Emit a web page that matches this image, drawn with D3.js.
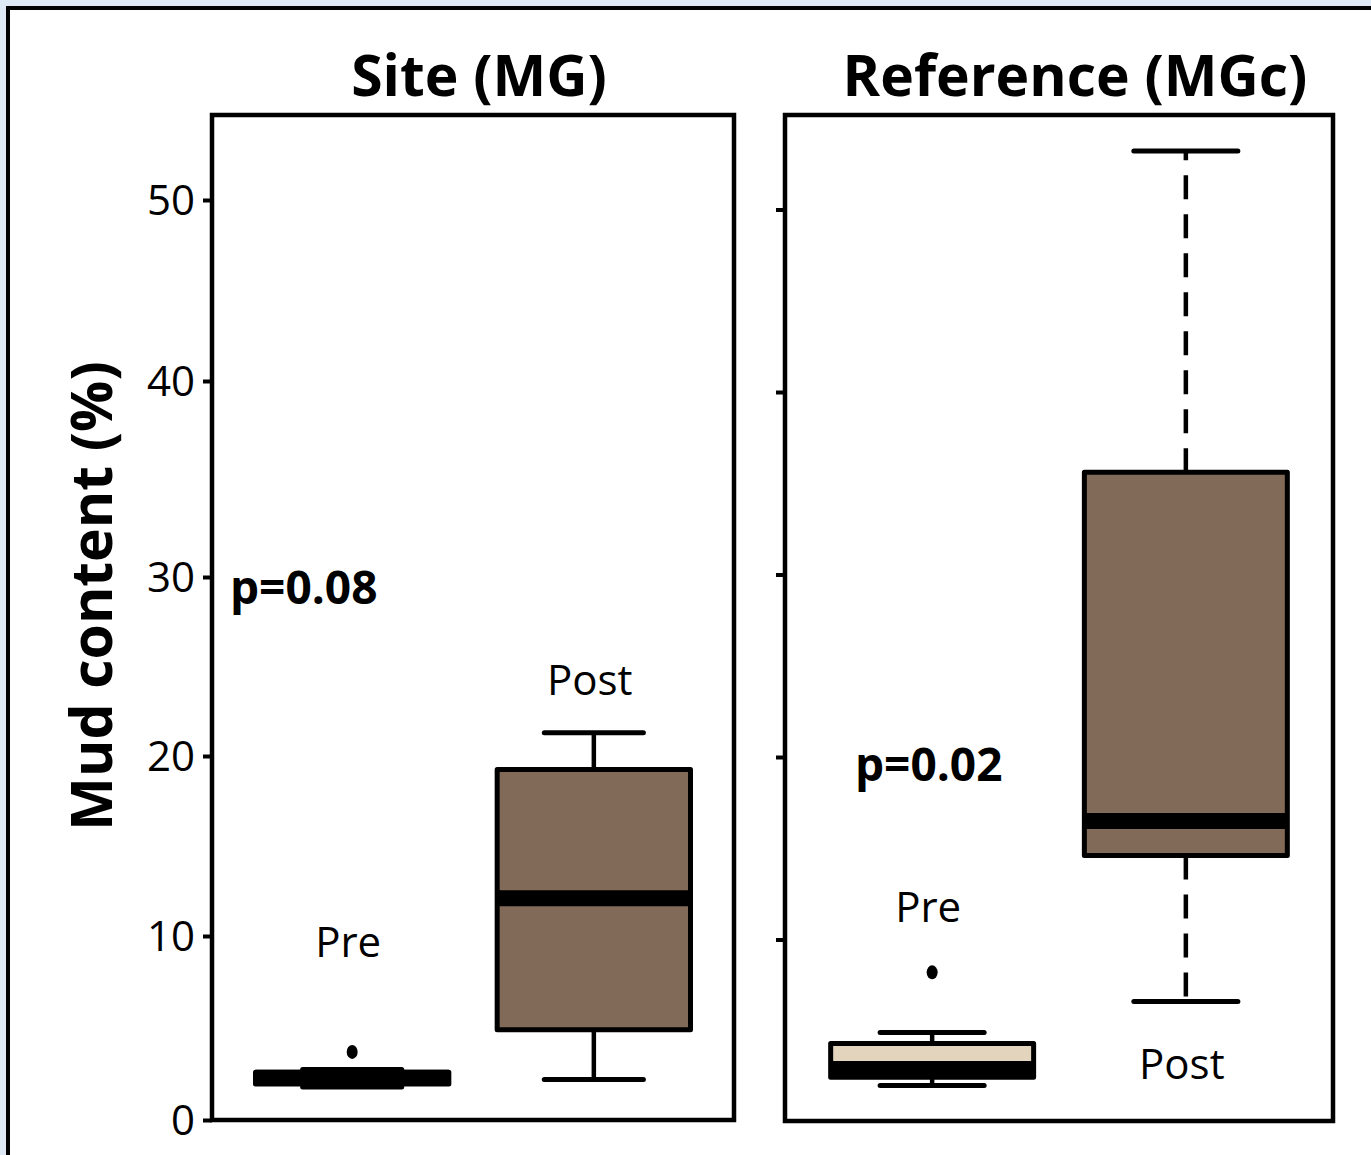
<!DOCTYPE html>
<html><head><meta charset="utf-8">
<script src="https://cdn.jsdelivr.net/npm/d3@7"></script>
<style>
html,body{margin:0;padding:0;background:#dfe9f5;}
svg{display:block;}
</style></head>
<body>
<svg id="chart" width="1371" height="1155"></svg>
<script>
// ---- data ----
const panels = ["Site (MG)", "Reference (MGc)"];
const groups = ["Pre", "Post"];
const yTicks = [0, 10, 20, 30, 40, 50];
const yTickLabels = ["0", "10", "20", "30", "40", "50"];
const refTicks = [10, 20, 30, 40, 50];
const yLabel = "Mud content (%)";
const pValues = ["p=0.08", "p=0.02"];

const siteMin = [1.8, 2.2];
const siteQ1 = [1.95, 4.9];
const siteMed = [2.3, 12.1];
const siteQ3 = [2.6, 19.25];
const siteMax = [2.75, 21.3];
const siteOutliers = [[3.7], []];

const refMin = [2.0, 6.6];
const refQ1 = [2.45, 14.6];
const refMed = [2.9, 16.5];
const refQ3 = [4.3, 35.6];
const refMax = [4.9, 53.2];
const refOutliers = [[8.2], []];

const fills = ["#e3d5bd", "#816a58"];

// ---- drawing ----
const svg = d3.select("#chart");
// outer frame
svg.append("rect").attr("x", 8).attr("y", 8).attr("width", 1400).attr("height", 1200)
  .attr("fill", "#fff").attr("stroke", "#000").attr("stroke-width", 4);

const panelDefs = [
  {x0: 212, x1: 734, yRange: [1120, 936, 756, 577, 381, 200], top: 115, bottom: 1120,
   labels: true, dashed: false, ticks: yTicks, titleDx: 6,
   stats: {min: siteMin, q1: siteQ1, med: siteMed, q3: siteQ3, max: siteMax, out: siteOutliers},
   pPos: [230, 29.4], grpLab: [9.7, 24.25]},
  {x0: 785, x1: 1333, yRange: [1122, 939.5, 757, 574.5, 392, 209.5], top: 115, bottom: 1121,
   labels: false, dashed: true, ticks: refTicks, titleDx: 16,
   stats: {min: refMin, q1: refQ1, med: refMed, q3: refQ3, max: refMax, out: refOutliers},
   pPos: [855, 19.6], grpLab: [11.8, 3.2]}
];

panelDefs.forEach((p, pi) => {
  const y = d3.scaleLinear().domain(yTicks).range(p.yRange);
  const x = d3.scalePoint().domain(groups).range([p.x0, p.x1]).padding(0.58);
  const step = x.step();
  const bw = step * 0.8, cw = step * 0.41;
  const g = svg.append("g");

  // title
  g.append("text").attr("x", (p.x0 + p.x1) / 2 + p.titleDx).attr("y", 96)
    .attr("text-anchor", "middle").attr("font-family", "Open Sans")
    .attr("font-weight", 700).attr("font-size", 57).attr("fill", "#000")
    .text(panels[pi]);

  // axis
  const axis = d3.axisLeft(y).tickValues(p.ticks).tickSize(9).tickPadding(8)
    .tickFormat(d => p.labels ? yTickLabels[yTicks.indexOf(d)] : "");
  const ag = g.append("g").attr("transform", `translate(${p.x0},0)`).call(axis);
  ag.select(".domain").remove();
  ag.selectAll(".tick line").attr("stroke", "#000").attr("stroke-width", 4);
  ag.selectAll(".tick text").attr("font-family", "Open Sans").attr("font-size", 42)
    .attr("fill", "#000").attr("dy", "0.34em");

  // panel box
  g.append("rect").attr("x", p.x0).attr("y", p.top)
    .attr("width", p.x1 - p.x0).attr("height", p.bottom - p.top)
    .attr("fill", "none").attr("stroke", "#000").attr("stroke-width", 4.5);

  const s = p.stats;
  groups.forEach((grp, i) => {
    const cx = x(grp);
    const dash = p.dashed && i === 1 ? "24,15" : null;
    // whiskers
    g.append("line").attr("x1", cx).attr("x2", cx).attr("y1", y(s.q3[i])).attr("y2", y(s.max[i]))
      .attr("stroke", "#000").attr("stroke-width", 4.5).attr("stroke-dasharray", dash);
    g.append("line").attr("x1", cx).attr("x2", cx).attr("y1", y(s.q1[i])).attr("y2", y(s.min[i]))
      .attr("stroke", "#000").attr("stroke-width", 4.5).attr("stroke-dasharray", dash);
    [s.max[i], s.min[i]].forEach(v => {
      g.append("line").attr("x1", cx - cw / 2).attr("x2", cx + cw / 2)
        .attr("y1", y(v)).attr("y2", y(v))
        .attr("stroke", "#000").attr("stroke-width", 5).attr("stroke-linecap", "round");
    });
    // box
    g.append("rect").attr("x", cx - bw / 2).attr("y", y(s.q3[i]))
      .attr("width", bw).attr("height", y(s.q1[i]) - y(s.q3[i]))
      .attr("fill", fills[i]).attr("stroke", "#000").attr("stroke-width", 5)
      .attr("stroke-linejoin", "round");
    // median
    g.append("line").attr("x1", cx - bw / 2).attr("x2", cx + bw / 2)
      .attr("y1", y(s.med[i])).attr("y2", y(s.med[i]))
      .attr("stroke", "#000").attr("stroke-width", 16);
    // outliers
    s.out[i].forEach(v => {
      g.append("ellipse").attr("cx", cx).attr("cy", y(v)).attr("rx", 5.5).attr("ry", 7).attr("fill", "#000");
    });
    // group label
    g.append("text").attr("x", cx - 4).attr("y", y(p.grpLab[i])).attr("dy", "0.36em")
      .attr("text-anchor", "middle").attr("font-family", "Open Sans")
      .attr("font-size", 42).attr("fill", "#000").text(grp);
  });

  // p value
  g.append("text").attr("x", p.pPos[0]).attr("y", y(p.pPos[1])).attr("dy", "0.36em")
    .attr("font-family", "Open Sans").attr("font-weight", 700)
    .attr("font-size", 46).attr("fill", "#000").text(pValues[pi]);
});

// y label
svg.append("text").attr("transform", "translate(112,596) rotate(-90)")
  .attr("text-anchor", "middle").attr("font-family", "Open Sans").attr("font-weight", 700)
  .attr("font-size", 57).attr("fill", "#000").text(yLabel);
</script>
</body></html>
